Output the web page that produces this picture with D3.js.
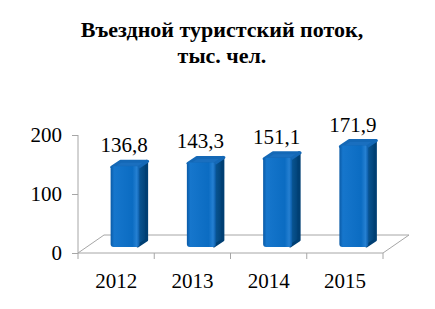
<!DOCTYPE html>
<html>
<head>
<meta charset="utf-8">
<script src="https://cdn.jsdelivr.net/npm/d3@7"></script>
<style>
  body { margin: 0; background: #fff; }
  text { font-family: "Liberation Serif", "Times New Roman", serif; fill: #000; }
</style>
</head>
<body>
<div id="chart"></div>
<script>
// Data
var years = ["2012", "2013", "2014", "2015"];
var values = [136.8, 143.3, 151.1, 171.9];
var valueLabels = ["136,8", "143,3", "151,1", "171,9"];
var yTicks = [0, 100, 200];

var svgWidth = 435;
var svgHeight = 309;

// front plane of the floor
var plotLeft = 78, plotRight = 383, plotBase = 253, plotTop = 135;
// full depth of floor, and bar offsets into it
var depth = {x: 26, y: -18};
var barShift = {x: 9, y: -6};
var barDepth = {x: 9, y: -6};
var barWidth = 29;

var svg = d3.select("#chart")
  .append("svg")
  .attr("width", svgWidth)
  .attr("height", svgHeight);

var defs = svg.append("defs");

var frontGrad = defs.append("linearGradient")
  .attr("id", "front")
  .attr("x1", "0%").attr("x2", "100%");
frontGrad.append("stop").attr("offset", "0%").attr("stop-color", "#0a5aa6");
frontGrad.append("stop").attr("offset", "12%").attr("stop-color", "#1676cc");
frontGrad.append("stop").attr("offset", "75%").attr("stop-color", "#0b6cc2");
frontGrad.append("stop").attr("offset", "90%").attr("stop-color", "#2580d2");
frontGrad.append("stop").attr("offset", "100%").attr("stop-color", "#0a5aa5");

var sideGrad = defs.append("linearGradient")
  .attr("id", "side")
  .attr("x1", "0%").attr("x2", "100%");
sideGrad.append("stop").attr("offset", "0%").attr("stop-color", "#0b5a9a");
sideGrad.append("stop").attr("offset", "100%").attr("stop-color", "#003f73");

// Title
svg.append("text")
  .attr("x", 222)
  .attr("y", 37)
  .attr("text-anchor", "middle")
  .style("font-size", "22px")
  .style("font-weight", "bold")
  .text("Въездной туристский поток,");

svg.append("text")
  .attr("x", 222)
  .attr("y", 63)
  .attr("text-anchor", "middle")
  .style("font-size", "22px")
  .style("font-weight", "bold")
  .text("тыс. чел.");

// Scales
var xScale = d3.scaleBand()
  .domain(years)
  .range([plotLeft, plotRight]);

var yScale = d3.scaleLinear()
  .domain([0, 200])
  .range([plotBase, plotTop]);

// Floor
svg.append("path")
  .attr("d", "M" + plotLeft + "," + plotBase +
    "L" + plotRight + "," + plotBase +
    "L" + (plotRight + depth.x) + "," + (plotBase + depth.y) +
    "L" + (plotLeft + depth.x) + "," + (plotBase + depth.y) + "Z")
  .attr("fill", "none")
  .attr("stroke", "#a6a6a6")
  .attr("stroke-width", 1);

// x axis labels
var bottomAxis = d3.axisBottom(xScale).tickSize(0);
var xAxis = svg.append("g")
  .attr("transform", `translate(0, ${plotBase})`)
  .call(bottomAxis);
xAxis.select(".domain").remove();
xAxis.selectAll("text")
  .attr("dy", "0.71em")
  .attr("y", 20)
  .style("font-size", "21px")
  .style("font-family", "Liberation Serif");

// x tick marks on the front edge, between categories
svg.append("g").selectAll("line")
  .data(years.concat(["end"]))
  .enter()
  .append("line")
  .attr("x1", (d, i) => i < years.length ? xScale(d) : plotRight)
  .attr("x2", (d, i) => i < years.length ? xScale(d) : plotRight)
  .attr("y1", plotBase)
  .attr("y2", plotBase + 6)
  .attr("stroke", "#a6a6a6");

// y axis
var leftAxis = d3.axisLeft(yScale).tickValues(yTicks).tickSize(6).tickPadding(10);
var yAxis = svg.append("g")
  .attr("transform", `translate(${plotLeft}, 0)`)
  .call(leftAxis);
yAxis.select(".domain").attr("stroke", "#a6a6a6").attr("d", `M0,${plotTop}V${plotBase}`);
yAxis.selectAll(".tick line").attr("stroke", "#a6a6a6");
yAxis.selectAll("text")
  .style("font-size", "21px")
  .style("font-family", "Liberation Serif");

// Bars
var bars = svg.append("g").selectAll("g")
  .data(values)
  .enter()
  .append("g");

function barX(i) {
  return xScale(years[i]) + (xScale.bandwidth() - barWidth) / 2 + barShift.x;
}
function barTop(d) {
  return yScale(d) + barShift.y;
}
var barBottom = plotBase + barShift.y;

// side
bars.append("path")
  .attr("d", (d, i) => {
    var x = barX(i) + barWidth - 2, t = barTop(d);
    return "M" + x + "," + (t + 1) +
      "L" + (x + barDepth.x) + "," + (t + barDepth.y + 1) +
      "L" + (x + barDepth.x) + "," + (barBottom + barDepth.y - 1) +
      "L" + x + "," + (barBottom - 1) + "Z";
  })
  .attr("fill", "url(#side)")
  .attr("stroke", "#003f73")
  .attr("stroke-width", 3)
  .attr("stroke-linejoin", "round");

// top
bars.append("path")
  .attr("d", (d, i) => {
    var x = barX(i) + 1, t = barTop(d) + 1;
    return "M" + x + "," + t +
      "L" + (x + barWidth - 2) + "," + t +
      "L" + (x + barWidth - 2 + barDepth.x) + "," + (t + barDepth.y) +
      "L" + (x + barDepth.x) + "," + (t + barDepth.y) + "Z";
  })
  .attr("fill", "#1a6fbf")
  .attr("stroke", "#1468b6")
  .attr("stroke-width", 3)
  .attr("stroke-linejoin", "round");

// front
bars.append("rect")
  .attr("x", (d, i) => barX(i))
  .attr("y", d => barTop(d))
  .attr("width", barWidth)
  .attr("height", d => barBottom - barTop(d))
  .attr("rx", 3)
  .attr("fill", "url(#front)");

// value labels
bars.append("text")
  .attr("x", (d, i) => barX(i) + barWidth / 2 - 1)
  .attr("y", d => barTop(d) - 14)
  .attr("text-anchor", "middle")
  .style("font-size", "21px")
  .text((d, i) => valueLabels[i]);
</script>
</body>
</html>
